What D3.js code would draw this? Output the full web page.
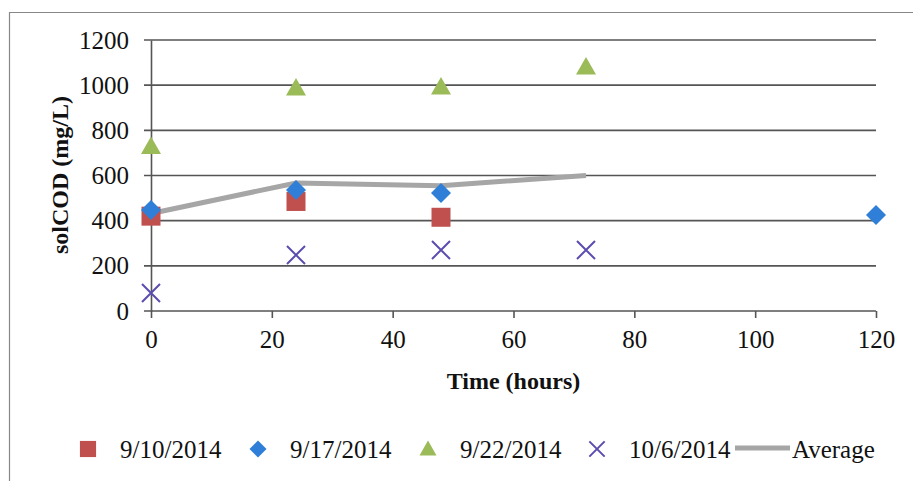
<!DOCTYPE html>
<meta charset="utf-8">
<style>
    body { margin: 0; background: #fff; }
    svg text { font-family: "Liberation Serif", "DejaVu Serif", serif; fill: #111; }
</style>
<svg width="913" height="481"></svg>
<script src="https://d3js.org/d3.v7.min.js"></script>
<script>
    var s0910 = [[0, 420], [24, 485], [48, 415]];
    var s0917 = [[0, 447], [24, 536], [48, 522], [120, 425]];
    var s0922 = [[0, 728], [24, 988], [48, 992], [72, 1080]];
    var s1006 = [[0, 80], [24, 248], [48, 270], [72, 270]];
    var average = [[0, 432], [24, 567], [48, 555], [72, 600]];
    var seriesNames = ["9/10/2014", "9/17/2014", "9/22/2014", "10/6/2014", "Average"];
    var xTicks = [0, 20, 40, 60, 80, 100, 120];
    var yTicks = [0, 200, 400, 600, 800, 1000, 1200];

    var svg = d3.select("svg"),
        x = d3.scaleLinear().domain([0, 120]).range([151, 876]),
        y = d3.scaleLinear().domain([0, 1200]).range([311, 40]),
        GRID = "#555",
        FONT = "'Liberation Serif', serif";

    // outer frame
    svg.append("path")
        .attr("d", "M9.5,481 L9.5,12.5 L913,12.5")
        .attr("fill", "none")
        .attr("stroke", "#888")
        .attr("stroke-width", 1.2);

    // horizontal grid
    svg.selectAll(".grid")
        .data(yTicks.filter(function (d) { return d > 0; }))
        .enter()
        .append("line")
        .attr("x1", 144)
        .attr("x2", x(120))
        .attr("y1", function (d) { return y(d); })
        .attr("y2", function (d) { return y(d); })
        .attr("stroke", GRID)
        .attr("stroke-width", 1.6);

    // x axis
    var xAxis = svg.append("g")
        .attr("transform", "translate(0," + y(0) + ")")
        .call(d3.axisBottom(x).tickValues(xTicks).tickFormat(d3.format("d")).tickSize(7).tickPadding(12));
    xAxis.select(".domain").attr("stroke", GRID).attr("stroke-width", 1.6)
        .attr("d", "M144,0H" + x(120));
    xAxis.selectAll(".tick line").attr("stroke", GRID).attr("stroke-width", 1.6);
    xAxis.selectAll("text").style("font-size", "25px").style("font-family", FONT);

    // y axis
    var yAxis = svg.append("g")
        .attr("transform", "translate(" + x(0) + ",0)")
        .call(d3.axisLeft(y).tickValues(yTicks).tickFormat(d3.format("d")).tickSize(0).tickPadding(22));
    yAxis.select(".domain").attr("stroke", GRID).attr("stroke-width", 1.6);
    yAxis.selectAll("text").style("font-size", "25px").style("font-family", FONT);

    // axis titles
    svg.append("text")
        .attr("x", (x(0) + x(120)) / 2)
        .attr("y", 389)
        .attr("text-anchor", "middle")
        .style("font-size", "24px")
        .attr("font-weight", "bold")
        .text("Time (hours)");
    svg.append("text")
        .attr("transform", "translate(68,175) rotate(-90)")
        .attr("text-anchor", "middle")
        .style("font-size", "24px")
        .attr("font-weight", "bold")
        .text("solCOD (mg/L)");

    // average line
    svg.append("path")
        .datum(average)
        .attr("fill", "none")
        .attr("stroke", "#a6a6a6")
        .attr("stroke-width", 5)
        .attr("d", d3.line()
            .x(function (d) { return x(d[0]); })
            .y(function (d) { return y(d[1]); }));

    var markers = [
        {data: s0910, sym: "square", r: 9.5, color: "#c0504d"},
        {data: s0917, sym: "diamond", r: 10, color: "#2f7ed8"},
        {data: s0922, sym: "triangle", r: 10, color: "#9bbb59"},
        {data: s1006, sym: "x", r: 9, color: "#5b4db0"}
    ];

    function markerPath(sym, r) {
        if (sym === "square") return "M" + (-r) + "," + (-r) + "H" + r + "V" + r + "H" + (-r) + "Z";
        if (sym === "diamond") return "M0," + (-r) + "L" + r + ",0L0," + r + "L" + (-r) + ",0Z";
        if (sym === "triangle") return "M0," + (-r) + "L" + r + "," + (r * 0.75) + "L" + (-r) + "," + (r * 0.75) + "Z";
        return "M" + (-r) + "," + (-r) + "L" + r + "," + r + "M" + (-r) + "," + r + "L" + r + "," + (-r);
    }

    function drawMarker(g, sym, r, color) {
        var p = g.append("path").attr("d", markerPath(sym, r));
        if (sym === "x") {
            p.attr("stroke", color).attr("stroke-width", 2).attr("fill", "none");
        } else {
            p.attr("fill", color);
        }
    }

    markers.forEach(function (m) {
        svg.selectAll(null)
            .data(m.data)
            .enter()
            .append("g")
            .attr("transform", function (d) { return "translate(" + x(d[0]) + "," + y(d[1]) + ")"; })
            .each(function () { drawMarker(d3.select(this), m.sym, m.r, m.color); });
    });

    // legend
    var legendX = [88, 258, 428, 597],
        legendY = 449;
    markers.forEach(function (m, i) {
        var g = svg.append("g").attr("transform", "translate(" + legendX[i] + "," + legendY + ")");
        drawMarker(g, m.sym, m.r * 0.85, m.color);
        svg.append("text")
            .attr("x", legendX[i] + 32)
            .attr("y", legendY)
            .attr("dy", "0.35em")
            .style("font-size", "25px")
            .text(seriesNames[i]);
    });
    svg.append("line")
        .attr("x1", 735).attr("x2", 790)
        .attr("y1", legendY - 1).attr("y2", legendY - 1)
        .attr("stroke", "#a6a6a6")
        .attr("stroke-width", 5);
    svg.append("text")
        .attr("x", 792)
        .attr("y", legendY)
        .attr("dy", "0.35em")
        .style("font-size", "25px")
        .text(seriesNames[4]);
</script>
